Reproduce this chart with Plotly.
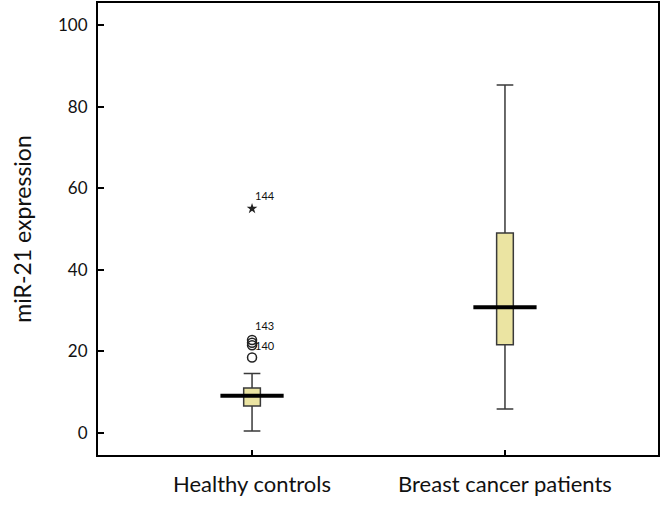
import plotly.graph_objects as go

categories = ["Healthy controls", "Breast cancer patients"]
q1 = [6.6, 21.6]
median = [9.1, 30.8]
q3 = [11.0, 49.0]
lower_whisker = [0.5, 5.9]
upper_whisker = [14.6, 85.3]

outlier_cat = ["Healthy controls", "Healthy controls", "Healthy controls", "Healthy controls"]
outlier_val = [18.5, 21.5, 22.1, 22.8]
extreme_cat = ["Healthy controls"]
extreme_val = [55.0]

labels_text = ["144", "143", "140"]
labels_cat = ["Healthy controls", "Healthy controls", "Healthy controls"]
labels_val = [55.0, 22.8, 21.5]
labels_yshift = [13, 14, 0]

FONT = "Lato, 'Open Sans', sans-serif"

fig = go.Figure()

fig.add_trace(go.Box(
    x=categories, q1=q1, median=median, q3=q3,
    lowerfence=lower_whisker, upperfence=upper_whisker,
    fillcolor="#ebe4a2", line=dict(color="#3a3a3a", width=1.5),
    width=0.066, whiskerwidth=1, boxpoints=False, showlegend=False,
    hoverinfo="skip",
))

# thick median bars
for i, m in enumerate(median):
    fig.add_trace(go.Scatter(
        x=[i - 0.125, i + 0.125], y=[m, m], mode="lines",
        line=dict(color="black", width=4), showlegend=False, hoverinfo="skip",
        xaxis="x2",
    ))

fig.add_trace(go.Scatter(
    x=outlier_cat, y=outlier_val, mode="markers",
    marker=dict(symbol="circle-open", size=9, color="#222", line=dict(width=1.5)),
    showlegend=False, hoverinfo="skip",
))
fig.add_trace(go.Scatter(
    x=extreme_cat, y=extreme_val, mode="markers",
    marker=dict(symbol="star", size=8, color="#222"),
    showlegend=False, hoverinfo="skip",
))

for t, c, v, ys in zip(labels_text, labels_cat, labels_val, labels_yshift):
    fig.add_annotation(x=c, y=v, text=t, showarrow=False, xanchor="left",
                       xshift=1, yshift=ys, font=dict(family=FONT, size=11, color="#111"))

fig.update_layout(
    width=661, height=505,
    margin=dict(l=98, r=3, t=3, b=50),
    paper_bgcolor="white", plot_bgcolor="white",
    font=dict(family=FONT, color="#111"),
    xaxis=dict(
        type="category", range=[-0.609, 1.605], automargin=False,
        showline=True, mirror=True, linecolor="black", linewidth=2,
        ticks="inside", ticklen=5, tickwidth=2, tickcolor="black",
        showgrid=False, zeroline=False,
        tickfont=dict(family=FONT, size=22, color="#111"),
        ticklabelstandoff=9,
    ),
    xaxis2=dict(
        overlaying="x", range=[-0.609, 1.605], visible=False,
    ),
    yaxis=dict(
        range=[-5.4, 105.4], automargin=False,
        tickvals=[0, 20, 40, 60, 80, 100],
        showline=True, mirror=True, linecolor="black", linewidth=2,
        ticks="inside", ticklen=6, tickwidth=2, tickcolor="black",
        showgrid=False, zeroline=False,
        tickfont=dict(family=FONT, size=17, color="#111"),
        ticklabelstandoff=5,
        title=dict(text="miR-21 expression", font=dict(family=FONT, size=23, color="#111"), standoff=20),
    ),
)

fig.write_html("out.html", config={"displayModeBar": False},
               post_script="document.body.style.margin='0';")
